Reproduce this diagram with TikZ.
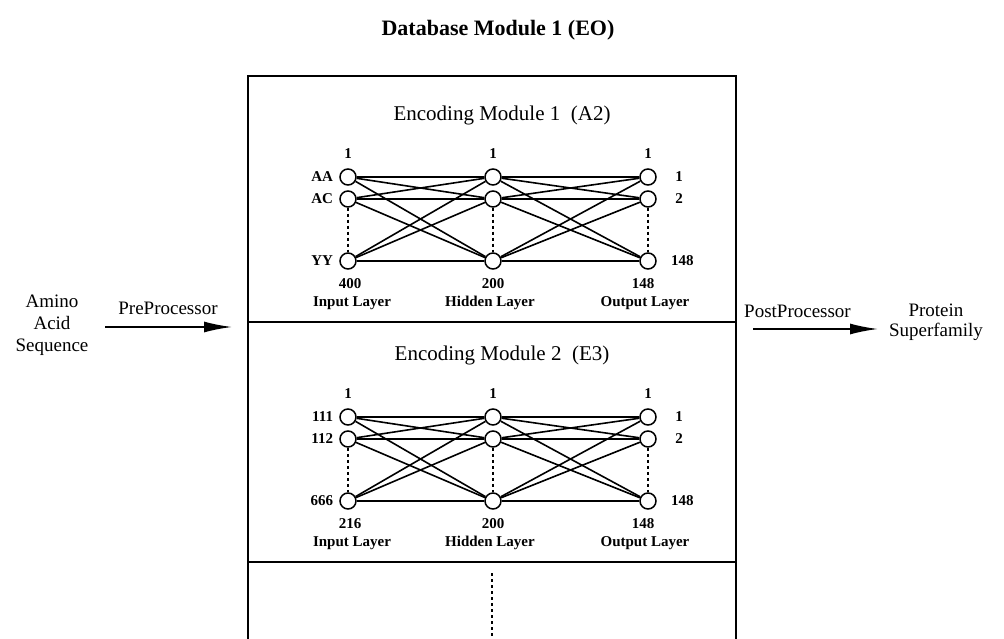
\documentclass[tikz,border=0pt]{standalone}
\usepackage{fontspec}
\setmainfont{Liberation Serif}
\usetikzlibrary{arrows.meta,positioning}

\begin{document}
\begin{tikzpicture}[x=1pt,y=-1pt,>={Latex[length=28pt,width=11pt]},
   unit/.style={draw,circle,line width=1.5pt,minimum size=16pt,inner sep=0pt},
   num/.style={font=\fontsize{15}{16}\selectfont\bfseries,inner sep=1pt},
   layer/.style={font=\fontsize{15}{16}\selectfont\bfseries,inner sep=1pt},
   modtitle/.style={font=\fontsize{21}{23}\selectfont},
   side/.style={font=\fontsize{19}{22}\selectfont,align=center,inner sep=1pt},
   link/.style={line width=1.6pt},
   gap/.style={dashed,line width=1.2pt}]
  \useasboundingbox (0,0) rectangle (1004,639);
  \node[font=\fontsize{22}{24}\selectfont\bfseries] (dbtitle) at (498,30) {Database Module 1 (EO)};
  % outer frame, open at the bottom
  \draw[line width=2pt] (248,639) -- (248,76) -- (736,76) -- (736,639);
  % the two encoding modules
  \foreach \m/\dy/\ttl/\na/\nb/\nc/\nn in
     {1/0/{Encoding Module 1 \ (A2)}/AA/AC/YY/400,
      2/240/{Encoding Module 2 \ (E3)}/111/112/666/216} {
    \node[modtitle] (title\m) at (502,115+\dy) {\ttl};
    \foreach \c/\x in {in/348,hid/493,out/648} {
      \node[unit] (\c\m-1) at (\x,177+\dy) {};
      \node[unit] (\c\m-2) at (\x,199+\dy) {};
      \node[unit] (\c\m-3) at (\x,261+\dy) {};
      \node[num] (top\c\m) at (\x,154+\dy) {1};
      \draw[gap] (\c\m-2) -- (\c\m-3);
    }
    \foreach \i in {1,2,3} {
      \foreach \j in {1,2,3} {
        \draw[link] (in\m-\i) -- (hid\m-\j);
        \draw[link] (hid\m-\i) -- (out\m-\j);
      }
    }
    \node[num,left=5pt of in\m-1] (la\m) {\na};
    \node[num,left=5pt of in\m-2] (lb\m) {\nb};
    \node[num,left=5pt of in\m-3] (lc\m) {\nc};
    \node[num] (ra\m) at (679,177+\dy) {1};
    \node[num] (rb\m) at (679,199+\dy) {2};
    \node[num,anchor=west] (rc\m) at (670,261+\dy) {148};
    \node[num] (nin\m) at (350,284+\dy) {\nn};
    \node[num] (nhid\m) at (493,284+\dy) {200};
    \node[num] (nout\m) at (643,284+\dy) {148};
    \node[layer] (lin\m) at (352,303+\dy) {Input Layer};
    \node[layer] (lhid\m) at (490,303+\dy) {Hidden Layer};
    \node[layer] (lout\m) at (645,303+\dy) {Output Layer};
    \draw[line width=1.4pt] (248,322+\dy) -- (736,322+\dy);
  }
  \draw[dash pattern=on 3pt off 3pt,line width=1.4pt] (492,573) -- (492,639);
  % pre- and post-processing
  \node[side] (seq) at (52,325) {Amino\\Acid\\Sequence};
  \node[side] (pre) at (168,308) {PreProcessor};
  \coordinate (prea) at (105,327);
  \coordinate (preb) at (232,327);
  \draw[->,line width=1.8pt] (prea) -- (preb);
  \node[side,anchor=west] (post) at (743,311) {PostProcessor};
  \coordinate (posta) at (753,329);
  \coordinate (postb) at (878,329);
  \draw[->,line width=1.8pt] (posta) -- (postb);
  \node[side,font=\fontsize{19}{20}\selectfont] (fam) at (936,322) {Protein\\Superfamily};
\end{tikzpicture}
\end{document}
